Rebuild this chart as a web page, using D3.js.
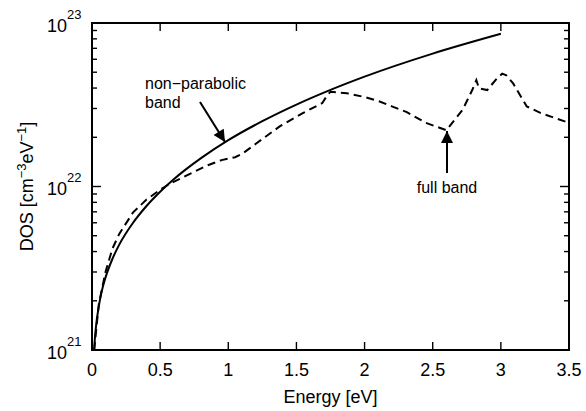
<!DOCTYPE html>
<html>
<head>
<meta charset="utf-8">
<script src="https://cdn.jsdelivr.net/npm/d3@7"></script>
<style>
  body { margin: 0; background: #fff; }
  svg { display: block; }
  text { font-family: "Liberation Sans", Arial, Helvetica, sans-serif; fill: #000; }
</style>
</head>
<body>
<svg width="586" height="411"></svg>
<script>
'use strict';

// energy [eV] and DOS [cm^-3 eV^-1]
var nonParabolicE   = [0.016, 0.02, 0.03, 0.05, 0.07, 0.1, 0.15, 0.2, 0.3, 0.4, 0.5, 0.6, 0.8, 1.0, 1.25, 1.5, 1.75, 2.0, 2.5, 3.0];
var nonParabolicDOS = [1.0e21, 1.14e21, 1.41e21, 1.85e21, 2.26e21, 2.79e21, 3.61e21, 4.41e21, 5.98e21, 7.60e21, 9.29e21,
                       1.107e22, 1.49e22, 1.92e22, 2.51e22, 3.17e22, 3.90e22, 4.70e22, 6.50e22, 8.59e22];

var fullBandE   = [0.016, 0.05, 0.1, 0.15, 0.2, 0.3, 0.4, 0.5, 0.58, 0.65, 0.75, 0.85, 0.95, 1.05, 1.1, 1.2, 1.38, 1.55,
                   1.69, 1.72, 1.75, 1.87, 2.01, 2.11, 2.2, 2.31, 2.45, 2.6, 2.72, 2.79, 2.82, 2.84, 2.9, 2.97, 3.01,
                   3.04, 3.09, 3.19, 3.29, 3.5];
var fullBandDOS = [1.0e21, 1.91e21, 3.02e21, 4.17e21, 5.13e21, 6.92e21, 8.32e21, 9.55e21, 1.05e22, 1.12e22, 1.23e22,
                   1.35e22, 1.45e22, 1.51e22, 1.58e22, 1.82e22, 2.34e22, 2.82e22, 3.24e22, 3.55e22, 3.80e22, 3.72e22,
                   3.51e22, 3.31e22, 3.09e22, 2.85e22, 2.45e22, 2.21e22, 2.95e22, 3.89e22, 4.47e22, 3.98e22, 3.89e22,
                   4.57e22, 4.90e22, 4.79e22, 4.27e22, 3.09e22, 2.82e22, 2.45e22];

var xTicks = [0, 0.5, 1, 1.5, 2, 2.5, 3, 3.5];
var xTickLabels = ['0', '0.5', '1', '1.5', '2', '2.5', '3', '3.5'];
var yTicks = [1e21, 1e22, 1e23];
var yTickExponents = ['21', '22', '23'];

var margin = { top: 23, right: 17, bottom: 61, left: 92 };

var svg = d3.select('svg');
var width = +svg.attr('width') - margin.left - margin.right;
var height = +svg.attr('height') - margin.top - margin.bottom;

var x = d3.scaleLinear().domain([0, 3.5]).range([0, width]);
var y = d3.scaleLog().domain([1e21, 1e23]).range([height, 0]);

var g = svg.append('g')
    .attr('transform', 'translate(' + margin.left + ',' + margin.top + ')');

var zip = function(es, vs) {
    return es.map(function(e, i) { return { e: e, v: vs[i] }; });
};

// minor log ticks
var minorTicks = [];
[1e21, 1e22].forEach(function(decade) {
    for (var k = 2; k <= 9; k++) { minorTicks.push(decade * k); }
});

var tickStroke = 1.4;

// bottom / top ticks (inward)
xTicks.forEach(function(t) {
    g.append('line').attr('x1', x(t)).attr('x2', x(t)).attr('y1', height).attr('y2', height - 8)
        .attr('stroke', '#000').attr('stroke-width', tickStroke);
    g.append('line').attr('x1', x(t)).attr('x2', x(t)).attr('y1', 0).attr('y2', 8)
        .attr('stroke', '#000').attr('stroke-width', tickStroke);
});

// left / right ticks
yTicks.forEach(function(t) {
    g.append('line').attr('x1', 0).attr('x2', 9).attr('y1', y(t)).attr('y2', y(t))
        .attr('stroke', '#000').attr('stroke-width', tickStroke);
    g.append('line').attr('x1', width).attr('x2', width - 9).attr('y1', y(t)).attr('y2', y(t))
        .attr('stroke', '#000').attr('stroke-width', tickStroke);
});
minorTicks.forEach(function(t) {
    g.append('line').attr('x1', 0).attr('x2', 5).attr('y1', y(t)).attr('y2', y(t))
        .attr('stroke', '#000').attr('stroke-width', tickStroke);
    g.append('line').attr('x1', width).attr('x2', width - 5).attr('y1', y(t)).attr('y2', y(t))
        .attr('stroke', '#000').attr('stroke-width', tickStroke);
});

// frame
g.append('rect')
    .attr('x', 0).attr('y', 0).attr('width', width).attr('height', height)
    .attr('fill', 'none').attr('stroke', '#000').attr('stroke-width', 2);

// x tick labels
xTicks.forEach(function(t, i) {
    g.append('text')
        .attr('x', x(t)).attr('y', height + 26)
        .attr('text-anchor', 'middle')
        .style('font-size', '18px')
        .text(xTickLabels[i]);
});

// y tick labels 10^n
yTicks.forEach(function(t, i) {
    var lbl = g.append('text')
        .attr('x', -45).attr('y', y(t) + 8.5)
        .style('font-size', '18px');
    lbl.append('tspan').text('10');
    lbl.append('tspan').attr('dy', -13).style('font-size', '13px').text(yTickExponents[i]);
});

// axis titles
svg.append('text')
    .attr('x', margin.left + width / 2).attr('y', 403)
    .attr('text-anchor', 'middle')
    .style('font-size', '18px')
    .text('Energy [eV]');

var yTitle = svg.append('text')
    .attr('transform', 'translate(33,' + (margin.top + y(1e22)) + ') rotate(-90)')
    .attr('text-anchor', 'middle')
    .style('font-size', '18px');
yTitle.append('tspan').text('DOS [cm');
yTitle.append('tspan').attr('dy', -7).style('font-size', '13px').text('\u22123');
yTitle.append('tspan').attr('dy', 7).text('eV');
yTitle.append('tspan').attr('dy', -7).style('font-size', '13px').text('\u22121');
yTitle.append('tspan').attr('dy', 7).text(']');

// curves
var line = d3.line()
    .x(function(d) { return x(d.e); })
    .y(function(d) { return y(d.v); });

g.append('path')
    .datum(zip(nonParabolicE, nonParabolicDOS))
    .attr('fill', 'none').attr('stroke', '#000').attr('stroke-width', 2)
    .attr('d', line.curve(d3.curveMonotoneX));

g.append('path')
    .datum(zip(fullBandE, fullBandDOS))
    .attr('fill', 'none').attr('stroke', '#000').attr('stroke-width', 2)
    .attr('stroke-dasharray', '8,5')
    .attr('d', line.curve(d3.curveLinear));

// annotations
var defs = svg.append('defs');
defs.append('marker')
    .attr('id', 'head')
    .attr('viewBox', '0 0 10 10')
    .attr('refX', 10).attr('refY', 5)
    .attr('markerUnits', 'userSpaceOnUse')
    .attr('markerWidth', 17).attr('markerHeight', 12)
    .attr('orient', 'auto')
    .append('path').attr('d', 'M0,0 L10,5 L0,10 Z').attr('fill', '#000');

svg.append('line')
    .attr('x1', 200).attr('y1', 102).attr('x2', 225).attr('y2', 142)
    .attr('stroke', '#000').attr('stroke-width', 2).attr('marker-end', 'url(#head)');

svg.append('text').attr('x', 145).attr('y', 89).style('font-size', '16px').text('non\u2212parabolic');
svg.append('text').attr('x', 145).attr('y', 108).style('font-size', '16px').text('band');

svg.append('line')
    .attr('x1', 447).attr('y1', 173).attr('x2', 447).attr('y2', 131)
    .attr('stroke', '#000').attr('stroke-width', 2).attr('marker-end', 'url(#head)');

svg.append('text').attr('x', 447).attr('y', 193).attr('text-anchor', 'middle')
    .style('font-size', '16px').text('full band');
</script>
</body>
</html>
